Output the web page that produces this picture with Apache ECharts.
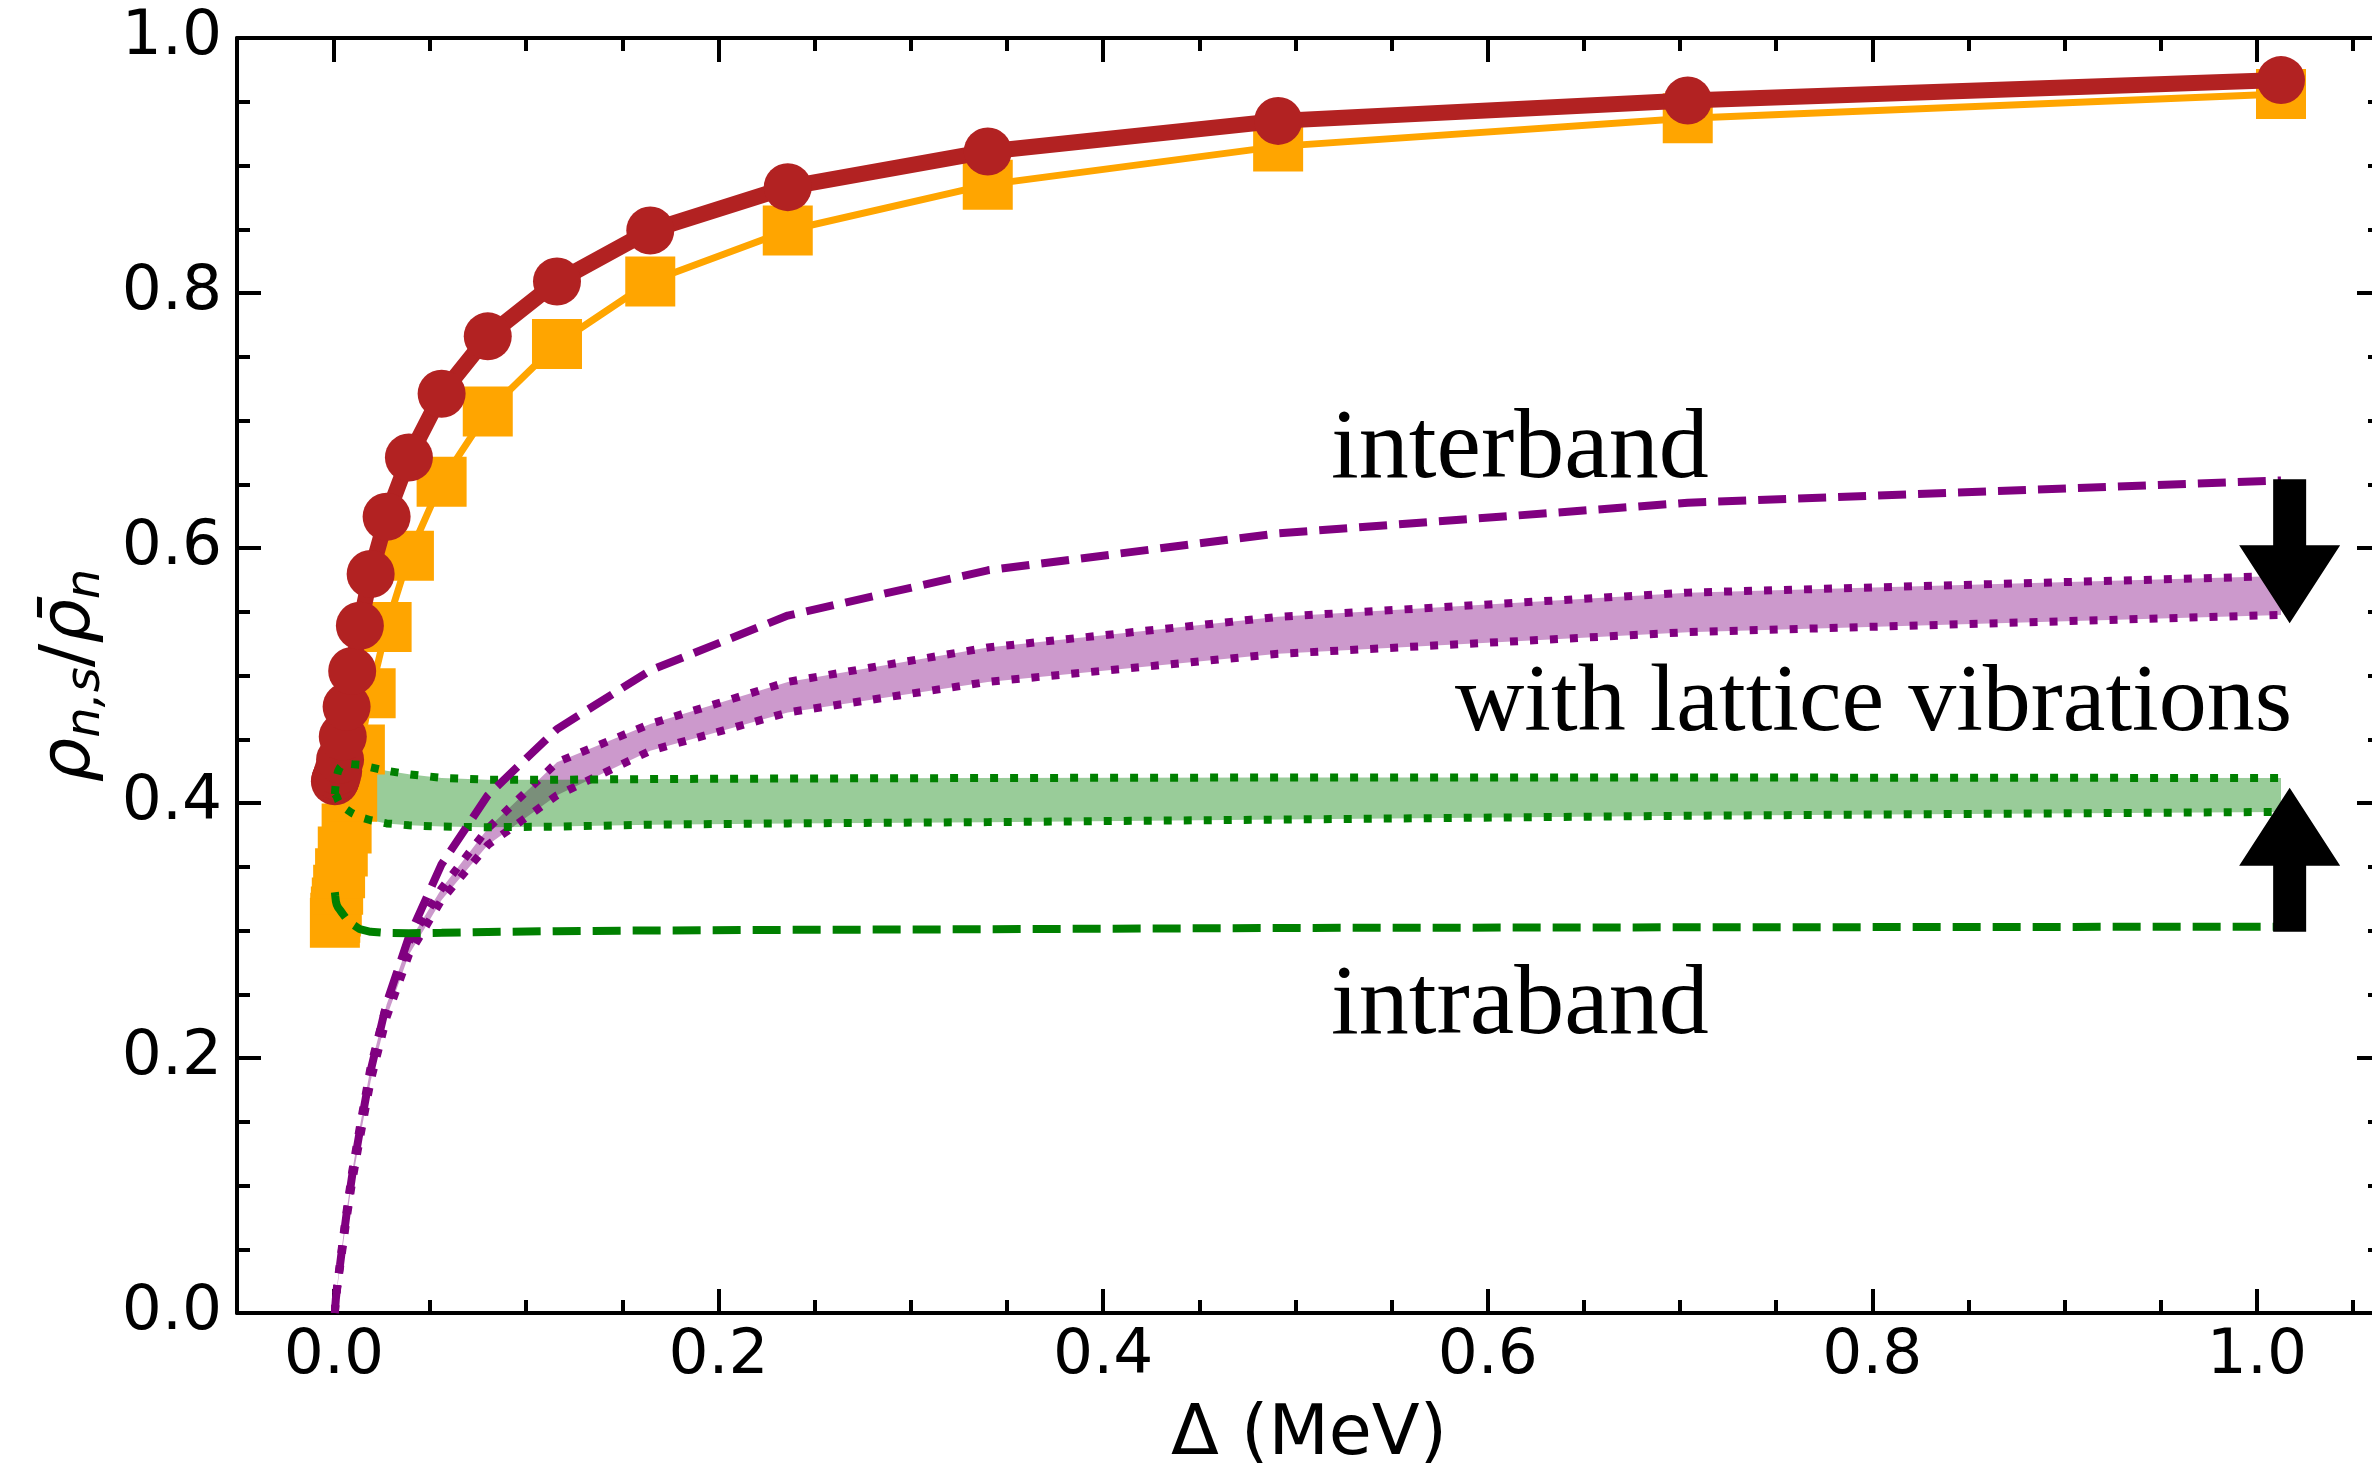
<!DOCTYPE html>
<html>
<head>
<meta charset="utf-8">
<script src="https://cdn.jsdelivr.net/npm/echarts@6/dist/echarts.min.js"></script>
<style>html,body{margin:0;padding:0;background:#fff}#chart{width:2372px;height:1470px}</style>
</head>
<body>
<div id="chart"></div>
<script>
// ---- data ----
const deltaX = [0.0005, 0.0007, 0.0010, 0.0015, 0.0022, 0.0032, 0.0046, 0.0066, 0.0095, 0.0135, 0.0191, 0.0274, 0.039, 0.056, 0.080, 0.116, 0.1645, 0.236, 0.340, 0.491, 0.704, 1.0125];
const rhoRed = [0.417, 0.418, 0.419, 0.421, 0.425, 0.434, 0.452, 0.4755, 0.5035, 0.539, 0.5796, 0.6245, 0.671, 0.721, 0.766, 0.809, 0.849, 0.883, 0.911, 0.935, 0.951, 0.967];
const rhoOrange = [0.306, 0.310, 0.315, 0.322, 0.332, 0.345, 0.362, 0.380, 0.405, 0.442, 0.486, 0.538, 0.594, 0.652, 0.707, 0.760, 0.809, 0.849, 0.885, 0.915, 0.937, 0.956];
const interband = [0.0, 0.005, 0.011, 0.018, 0.027, 0.038, 0.055, 0.078, 0.108, 0.143, 0.19, 0.243, 0.295, 0.352, 0.406, 0.458, 0.504, 0.547, 0.5825, 0.6115, 0.6355, 0.653];
const intraband = [0.330, 0.327, 0.323, 0.320, 0.318, 0.316, 0.313, 0.309, 0.305, 0.301, 0.299, 0.298, 0.2978, 0.2982, 0.2988, 0.2995, 0.300, 0.3005, 0.301, 0.302, 0.3025, 0.303];
const interLatticeHigh = [0.0, 0.006, 0.012, 0.019, 0.028, 0.040, 0.057, 0.080, 0.111, 0.146, 0.193, 0.242, 0.291, 0.333, 0.380, 0.432, 0.462, 0.495, 0.522, 0.546, 0.565, 0.578];
const interLatticeLow = [0.0, 0.005, 0.010, 0.017, 0.025, 0.036, 0.052, 0.074, 0.103, 0.137, 0.182, 0.232, 0.281, 0.324, 0.367, 0.406, 0.441, 0.471, 0.495, 0.517, 0.534, 0.5475];
const intraLatticeHigh = [0.407, 0.411, 0.416, 0.421, 0.425, 0.428, 0.430, 0.431, 0.4305, 0.430, 0.428, 0.4253, 0.4225, 0.4197, 0.4183, 0.4182, 0.4188, 0.4192, 0.4196, 0.420, 0.420, 0.4196];
const intraLatticeLow = [0.407, 0.407, 0.406, 0.405, 0.402, 0.399, 0.397, 0.395, 0.392, 0.389, 0.3865, 0.384, 0.3825, 0.3815, 0.381, 0.3815, 0.383, 0.384, 0.385, 0.387, 0.390, 0.393];
const xMajorTicks = [0.0, 0.2, 0.4, 0.6, 0.8, 1.0];
const xMinorTicks = [0.05, 0.1, 0.15, 0.25, 0.3, 0.35, 0.45, 0.5, 0.55, 0.65, 0.7, 0.75, 0.85, 0.9, 0.95, 1.05];
// arrows: [x, start y, tip y]
const arrows = [[1.017, 0.654, 0.541], [1.017, 0.299, 0.412]];
const labels = ['interband', 'with lattice vibrations', 'intraband'];

// ---- helpers ----
const pairs = ys => deltaX.map((x, i) => [x, ys[i]]);
const bandData = (lo, hi) => deltaX.map((x, i) => [x, lo[i], hi[i]]);

const XMIN = -0.0504, XMAX = 1.0645;
const tickFont = 'DejaVu Sans';

function xAxisDef(pos, major, showLabels, showLine) {
  return {
    type: 'value', position: pos, min: XMIN, max: XMAX,
    axisLine: { show: showLine, onZero: false, lineStyle: { color: '#000', width: 4 } },
    axisTick: { show: true, inside: true, length: major ? 24 : 13, lineStyle: { color: '#000', width: 4 },
      customValues: major ? xMajorTicks : xMinorTicks },
    axisLabel: showLabels ? { show: true, customValues: xMajorTicks, formatter: v => v.toFixed(1),
      fontSize: 63, fontFamily: tickFont, color: '#000', margin: 12 } : { show: false },
    splitLine: { show: false }
  };
}
function yAxisDef(pos, showLabels) {
  return {
    type: 'value', position: pos, min: 0, max: 1, interval: 0.2,
    axisLine: { show: true, onZero: false, lineStyle: { color: '#000', width: 4 } },
    axisTick: { show: true, inside: true, length: 24, lineStyle: { color: '#000', width: 4 } },
    minorTick: { show: true, splitNumber: 4, length: 13, lineStyle: { color: '#000', width: 4 } },
    axisLabel: showLabels ? { show: true, formatter: v => v.toFixed(1), fontSize: 63, fontFamily: tickFont, color: '#000', margin: 15 } : { show: false },
    splitLine: { show: false }, minorSplitLine: { show: false }
  };
}

const xAxes = [xAxisDef('bottom', true, true, true), xAxisDef('bottom', false, false, false),
               xAxisDef('top', true, false, true), xAxisDef('top', false, false, false)];
xAxes[0].name = 'Δ (MeV)';
xAxes[0].nameLocation = 'middle';
xAxes[0].nameGap = 88;
xAxes[0].nameTextStyle = { fontSize: 70, fontFamily: tickFont, color: '#000' };

const yAxes = [yAxisDef('left', true), yAxisDef('right', false)];
yAxes[0].name = '{i|ρ}{s|n,s}{r|/}{i|ρ\u0304}{s|n}';
yAxes[0].nameLocation = 'middle';
yAxes[0].nameGap = 116;
yAxes[0].nameRotate = 90;
yAxes[0].nameTextStyle = {
  color: '#000', fontFamily: tickFont,
  rich: {
    i: { fontSize: 70, fontStyle: 'italic', fontFamily: tickFont, lineHeight: 80, verticalAlign: 'middle', color: '#000' },
    r: { fontSize: 70, fontFamily: tickFont, lineHeight: 80, verticalAlign: 'middle', color: '#000' },
    s: { fontSize: 48, fontStyle: 'italic', fontFamily: tickFont, lineHeight: 44, verticalAlign: 'bottom', color: '#000' }
  }
};

const dotted = [8, 12];
const dashed = [28, 12];
const lineBase = { type: 'line', xAxisIndex: 0, yAxisIndex: 0, symbol: 'none', silent: true, animation: false };

// band fill drawn as one polygon through the axes' scales
function bandSeries(lo, hi, color) {
  return {
    type: 'custom', xAxisIndex: 0, yAxisIndex: 0, data: bandData(lo, hi), z: 1, silent: true, animation: false,
    encode: { x: 0, y: [1, 2] },
    renderItem: function (params, api) {
      if (params.dataIndexInside !== 0) return null;
      const n = params.dataInsideLength;
      const top = [], bottom = [];
      for (let j = 0; j < n; j++) {
        const x = api.value(0, j);
        bottom.push(api.coord([x, api.value(1, j)]));
        top.push(api.coord([x, api.value(2, j)]));
      }
      return { type: 'polygon', shape: { points: bottom.concat(top.reverse()) }, style: { fill: color } };
    }
  };
}

const series = [
  bandSeries(interLatticeLow, interLatticeHigh, 'rgba(128,0,128,0.4)'),
  bandSeries(intraLatticeLow, intraLatticeHigh, 'rgba(0,128,0,0.4)'),
  // orange squares
  { type: 'line', xAxisIndex: 0, yAxisIndex: 0, data: pairs(rhoOrange), symbol: 'rect', symbolSize: 50, showAllSymbol: true,
    lineStyle: { color: '#FFA500', width: 7 }, itemStyle: { color: '#FFA500', borderWidth: 0 }, z: 3, animation: false, silent: true },
  // red circles
  { type: 'line', xAxisIndex: 0, yAxisIndex: 0, data: pairs(rhoRed), symbol: 'circle', symbolSize: 48, showAllSymbol: true,
    lineStyle: { color: '#B22222', width: 16 }, itemStyle: { color: '#B22222', borderWidth: 0 }, z: 4, animation: false, silent: true },
  // band boundaries (dotted)
  Object.assign({}, lineBase, { data: pairs(interLatticeHigh), lineStyle: { color: '#800080', width: 8, type: dotted }, z: 5 }),
  Object.assign({}, lineBase, { data: pairs(interLatticeLow), lineStyle: { color: '#800080', width: 8, type: dotted }, z: 5 }),
  Object.assign({}, lineBase, { data: pairs(intraLatticeHigh), lineStyle: { color: '#008000', width: 8, type: dotted }, z: 5 }),
  Object.assign({}, lineBase, { data: pairs(intraLatticeLow), lineStyle: { color: '#008000', width: 8, type: dotted }, z: 5 }),
  // dashed interband / intraband
  Object.assign({}, lineBase, { data: pairs(interband), lineStyle: { color: '#800080', width: 8, type: dashed }, z: 5 }),
  Object.assign({}, lineBase, { data: pairs(intraband), lineStyle: { color: '#008000', width: 8, type: dashed }, z: 5 }),
  // arrows
  { type: 'custom', xAxisIndex: 0, yAxisIndex: 0, data: arrows, z: 10, silent: true, animation: false,
    encode: { x: 0, y: [1, 2] },
    renderItem: function (params, api) {
      const x = api.value(0), y0 = api.value(1), y1 = api.value(2);
      const p0 = api.coord([x, y0]), p1 = api.coord([x, y1]);
      const dir = p1[1] > p0[1] ? 1 : -1;
      const sw = 16.5, hw = 50.5, hl = 78;
      const cx = p0[0];
      const yb = p1[1] - dir * hl;
      return { type: 'polygon', shape: { points: [[cx - sw, p0[1]], [cx + sw, p0[1]], [cx + sw, yb], [cx + hw, yb], [cx, p1[1]], [cx - hw, yb], [cx - sw, yb]] },
        style: { fill: '#000' } };
    } }
];

const chart = echarts.init(document.getElementById('chart'), null, { renderer: 'canvas' });
chart.setOption({
  backgroundColor: '#fff',
  animation: false,
  grid: { left: 237, top: 38, width: 2144, height: 1275, containLabel: false, outerBoundsMode: 'none' },
  xAxis: xAxes,
  yAxis: yAxes,
  series: series,
  graphic: [
    { type: 'text', x: 1331, y: 451, z: 20, style: { text: labels[0], font: '100px "Liberation Serif"', fill: '#000', align: 'left', verticalAlign: 'middle' } },
    { type: 'text', x: 1455, y: 705, z: 20, style: { text: labels[1], font: '96px "Liberation Serif"', fill: '#000', align: 'left', verticalAlign: 'middle' } },
    { type: 'text', x: 1331, y: 1007, z: 20, style: { text: labels[2], font: '100px "Liberation Serif"', fill: '#000', align: 'left', verticalAlign: 'middle' } }
  ]
});
</script>
</body>
</html>
